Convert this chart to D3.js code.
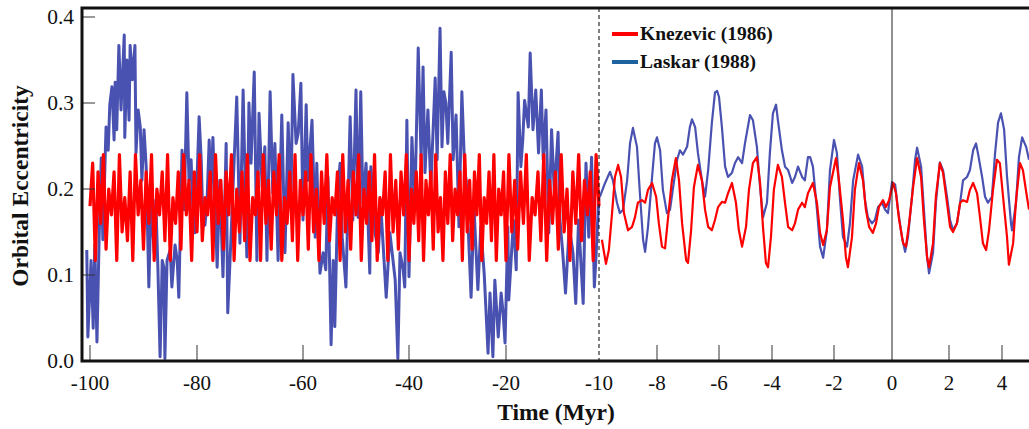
<!DOCTYPE html>
<html>
<head>
<meta charset="utf-8">
<title>Orbital Eccentricity</title>
<style>
    body { margin: 0; background: #fff; }
    text { font-family: "Liberation Serif", "Times New Roman", serif; fill: #111; }
</style>
</head>
<body>
<div id="chart"></div>
<script src="https://d3js.org/d3.v7.min.js"></script>
<script>
// ticks
var tickX = [-100, -80, -60, -40, -20, -10, -8, -6, -4, -2, 0, 2, 4];
var tickY = [0.0, 0.1, 0.2, 0.3, 0.4];

// Knezevic (1986), -100 .. -10 Myr
var knezTimeOld = d3.range(-100, -20, 0.5).concat(d3.range(-20, -9.99, 0.3125));
var knezOld = [
    0.18, 0.23, 0.117, 0.22, 0.16, 0.24, 0.13, 0.20,
    0.17, 0.22, 0.117, 0.24, 0.15, 0.19, 0.14, 0.22,
    0.117, 0.24, 0.17, 0.21, 0.13, 0.22, 0.16, 0.24,
    0.117, 0.20, 0.17, 0.22, 0.14, 0.24, 0.117, 0.19,
    0.16, 0.22, 0.13, 0.24, 0.17, 0.21, 0.117, 0.22,
    0.15, 0.24, 0.14, 0.19, 0.17, 0.22, 0.117, 0.24,
    0.16, 0.21, 0.13, 0.22, 0.17, 0.24, 0.117, 0.20,
    0.15, 0.22, 0.14, 0.24, 0.117, 0.19, 0.17, 0.22,
    0.117, 0.24, 0.16, 0.21, 0.13, 0.22, 0.17, 0.24,
    0.117, 0.19, 0.16, 0.22, 0.14, 0.24, 0.117, 0.21,
    0.17, 0.22, 0.13, 0.24, 0.15, 0.20, 0.117, 0.22,
    0.16, 0.24, 0.14, 0.19, 0.17, 0.22, 0.117, 0.24,
    0.15, 0.21, 0.13, 0.22, 0.17, 0.24, 0.117, 0.20,
    0.16, 0.22, 0.14, 0.24, 0.117, 0.19, 0.17, 0.22,
    0.117, 0.24, 0.15, 0.21, 0.13, 0.22, 0.17, 0.24,
    0.117, 0.20, 0.16, 0.22, 0.14, 0.24, 0.117, 0.21,
    0.17, 0.22, 0.13, 0.24, 0.15, 0.19, 0.117, 0.22,
    0.16, 0.24, 0.14, 0.20, 0.17, 0.22, 0.117, 0.24,
    0.15, 0.21, 0.13, 0.22, 0.17, 0.24, 0.117, 0.19,
    0.16, 0.22, 0.14, 0.24, 0.117, 0.20, 0.17, 0.22,
    0.117, 0.24, 0.15, 0.21, 0.13, 0.22, 0.16, 0.24,
    0.117, 0.19, 0.17, 0.22, 0.14, 0.24, 0.117, 0.21,
    0.16, 0.22, 0.13, 0.24, 0.15, 0.20, 0.117, 0.22,
    0.16, 0.24, 0.14, 0.21, 0.17, 0.22, 0.117, 0.24,
    0.18
];

// Knezevic (1986), -10 .. 5 Myr
var knezTimeNew = [-9.90, -9.76, -9.66, -9.55, -9.45, -9.34, -9.24, -9.14, -9.00, -8.86, -8.76, -8.66, -8.52, -8.41, -8.31, -8.17, -8.03, -7.94, -7.84, -7.74,
    -7.65, -7.52, -7.39, -7.29, -7.19, -7.06, -7.00, -6.90, -6.81, -6.68, -6.55, -6.45, -6.35, -6.23, -6.13, -6.03, -5.89, -5.77, -5.66, -5.51,
    -5.36, -5.25, -5.13, -4.98, -4.87, -4.72, -4.57, -4.45, -4.34, -4.23, -4.15, -4.04, -3.94, -3.81, -3.68, -3.58, -3.48, -3.35, -3.26, -3.16,
    -3.03, -2.94, -2.84, -2.68, -2.55, -2.45, -2.35, -2.23, -2.13, -1.93, -1.83, -1.69, -1.59, -1.52, -1.38, -1.28, -1.14, -1.00, -0.90, -0.79,
    -0.66, -0.55, -0.45, -0.31, -0.21, -0.10, 0.04, 0.14, 0.25, 0.39, 0.49, 0.60, 0.74, 0.88, 1.02, 1.12, 1.23, 1.30, 1.44, 1.54,
    1.68, 1.79, 1.93, 2.04, 2.15, 2.30, 2.42, 2.53, 2.68, 2.79, 2.91, 3.06, 3.17, 3.28, 3.40, 3.51, 3.66, 3.81, 3.92, 4.04,
    4.19, 4.26, 4.42, 4.53, 4.68, 4.79, 4.94, 5.02];
var knezNew = [0.141, 0.113, 0.129, 0.172, 0.214, 0.228, 0.214, 0.172, 0.152, 0.156, 0.167, 0.184, 0.187, 0.184, 0.199, 0.207, 0.191, 0.160, 0.133, 0.131,
    0.164, 0.210, 0.236, 0.210, 0.160, 0.117, 0.114, 0.152, 0.202, 0.228, 0.210, 0.176, 0.156, 0.152, 0.164, 0.179, 0.185, 0.184, 0.195, 0.207,
    0.184, 0.152, 0.133, 0.156, 0.199, 0.230, 0.237, 0.207, 0.156, 0.114, 0.109, 0.144, 0.199, 0.228, 0.214, 0.184, 0.156, 0.152, 0.160, 0.176,
    0.184, 0.179, 0.195, 0.207, 0.184, 0.149, 0.135, 0.152, 0.202, 0.236, 0.210, 0.164, 0.121, 0.109, 0.144, 0.199, 0.230, 0.210, 0.176, 0.156,
    0.149, 0.160, 0.179, 0.187, 0.179, 0.187, 0.207, 0.195, 0.164, 0.137, 0.133, 0.160, 0.202, 0.236, 0.214, 0.164, 0.121, 0.109, 0.137, 0.191,
    0.230, 0.219, 0.184, 0.156, 0.150, 0.160, 0.184, 0.187, 0.185, 0.199, 0.207, 0.195, 0.167, 0.137, 0.129, 0.152, 0.199, 0.234, 0.230, 0.191,
    0.144, 0.112, 0.137, 0.187, 0.230, 0.222, 0.191, 0.176];

// Laskar (1988), -100 .. -10 Myr
var laskarTimeOld = [-100.6, -100.4, -99.8, -99.4, -99.1, -98.7, -98.3, -97.9, -97.6, -97.0, -96.6, -96.3, -95.9, -95.5, -95.3, -95.0, -94.6, -94.2, -93.6, -93.5,
    -93.1, -92.7, -92.5, -92.1, -91.6, -91.4, -91.0, -90.6, -90.3, -89.9, -89.5, -89.0, -88.6, -88.0, -87.7, -87.3, -86.9, -86.5, -86.2, -86.0,
    -85.6, -85.0, -84.7, -84.1, -83.7, -83.4, -82.8, -82.4, -81.9, -81.5, -81.1, -80.7, -80.4, -80.0, -79.6, -79.2, -78.9, -78.5, -78.1, -77.7,
    -77.4, -77.0, -76.6, -76.2, -75.7, -75.1, -74.5, -74.2, -73.6, -73.2, -72.5, -71.9, -71.3, -70.6, -70.2, -69.8, -69.2, -68.7, -68.3, -67.7,
    -67.2, -66.8, -66.2, -65.7, -65.3, -64.7, -64.0, -63.4, -62.8, -62.3, -61.9, -61.3, -60.9, -60.4, -60.0, -59.4, -59.1, -58.3, -57.7, -57.4,
    -56.8, -56.2, -55.7, -55.3, -54.7, -54.3, -54.0, -53.4, -53.0, -52.6, -51.9, -51.1, -50.6, -50.0, -49.6, -49.1, -48.7, -48.1, -47.4, -47.2,
    -46.4, -45.8, -45.3, -44.3, -43.6, -42.6, -42.1, -41.7, -41.1, -40.8, -40.4, -40.0, -39.4, -38.8, -38.1, -37.5, -37.1, -36.7, -36.1, -35.5,
    -34.6, -34.2, -33.6, -33.2, -32.8, -32.4, -32.0, -31.3, -30.9, -30.3, -29.7, -29.1, -28.5, -28.2, -27.8, -27.2, -26.6, -25.8, -25.2, -24.5,
    -23.7, -23.3, -22.7, -22.3, -21.6, -21.0, -20.6, -20.2, -19.8, -19.7, -19.2, -18.9, -18.7, -18.4, -18.2, -18.0, -17.6, -17.4, -17.1, -16.8,
    -16.5, -16.2, -16.0, -15.7, -15.4, -15.1, -14.8, -14.4, -14.2, -13.9, -13.6, -13.2, -12.8, -12.5, -12.2, -11.7, -11.4, -11.1, -10.8, -10.5,
    -10.3, -10.0];
var laskarOld = [0.129, 0.028, 0.117, 0.038, 0.135, 0.022, 0.141, 0.236, 0.141, 0.272, 0.245, 0.298, 0.319, 0.257, 0.324, 0.269, 0.367, 0.292, 0.379, 0.260,
    0.350, 0.280, 0.367, 0.327, 0.367, 0.242, 0.292, 0.272, 0.210, 0.269, 0.226, 0.086, 0.187, 0.126, 0.187, 0.106, 0.005, 0.117, 0.109, 0.003,
    0.117, 0.129, 0.086, 0.135, 0.117, 0.074, 0.245, 0.176, 0.312, 0.210, 0.234, 0.164, 0.149, 0.210, 0.284, 0.234, 0.164, 0.158, 0.187, 0.257,
    0.187, 0.260, 0.187, 0.109, 0.210, 0.098, 0.253, 0.056, 0.141, 0.202, 0.307, 0.137, 0.315, 0.121, 0.300, 0.230, 0.336, 0.117, 0.288, 0.202,
    0.249, 0.117, 0.313, 0.195, 0.253, 0.117, 0.286, 0.126, 0.277, 0.179, 0.333, 0.253, 0.265, 0.323, 0.164, 0.298, 0.210, 0.280, 0.144, 0.230,
    0.102, 0.126, 0.106, 0.214, 0.019, 0.117, 0.040, 0.202, 0.230, 0.144, 0.086, 0.284, 0.164, 0.315, 0.167, 0.313, 0.184, 0.230, 0.102, 0.226,
    0.149, 0.126, 0.179, 0.074, 0.149, 0.094, 0.003, 0.126, 0.106, 0.086, 0.280, 0.098, 0.260, 0.179, 0.364, 0.234, 0.342, 0.219, 0.292, 0.202,
    0.329, 0.234, 0.387, 0.249, 0.313, 0.300, 0.253, 0.359, 0.234, 0.286, 0.156, 0.313, 0.219, 0.210, 0.156, 0.074, 0.179, 0.083, 0.156, 0.102,
    0.009, 0.079, 0.005, 0.094, 0.028, 0.079, 0.056, 0.021, 0.156, 0.071, 0.164, 0.106, 0.312, 0.226, 0.257, 0.303, 0.272, 0.358, 0.269, 0.315,
    0.242, 0.315, 0.234, 0.292, 0.149, 0.269, 0.195, 0.266, 0.164, 0.126, 0.079, 0.156, 0.126, 0.067, 0.164, 0.067, 0.230, 0.144, 0.237, 0.086,
    0.126, 0.195];

// Laskar (1988), -10 .. 5 Myr
var laskarTimeNew = [-9.97, -9.79, -9.62, -9.52, -9.38, -9.28, -9.17, -9.03, -8.93, -8.83, -8.69, -8.59, -8.48, -8.41, -8.31, -8.17, -8.07, -8.00, -7.90, -7.81,
    -7.68, -7.58, -7.48, -7.35, -7.26, -7.16, -7.03, -6.94, -6.87, -6.77, -6.68, -6.55, -6.45, -6.35, -6.23, -6.13, -6.06, -6.00, -5.89, -5.77,
    -5.66, -5.51, -5.40, -5.28, -5.13, -5.02, -4.83, -4.72, -4.57, -4.45, -4.34, -4.19, -4.08, -3.97, -3.87, -3.81, -3.68, -3.58, -3.48, -3.35,
    -3.26, -3.16, -3.03, -2.94, -2.84, -2.77, -2.68, -2.55, -2.45, -2.35, -2.23, -2.13, -2.00, -1.90, -1.79, -1.69, -1.55, -1.45, -1.34, -1.17,
    -1.03, -0.93, -0.83, -0.69, -0.59, -0.48, -0.34, -0.24, -0.14, 0.00, 0.11, 0.21, 0.35, 0.46, 0.56, 0.70, 0.81, 0.88, 1.02, 1.12,
    1.23, 1.30, 1.44, 1.54, 1.68, 1.79, 1.93, 2.04, 2.15, 2.30, 2.42, 2.53, 2.68, 2.79, 2.91, 3.02, 3.09, 3.25, 3.36, 3.47,
    3.62, 3.74, 3.85, 3.96, 4.08, 4.19, 4.34, 4.38, 4.53, 4.64, 4.76, 4.91, 5.02];
var laskarNew = [0.191, 0.207, 0.220, 0.210, 0.184, 0.172, 0.176, 0.210, 0.253, 0.271, 0.249, 0.195, 0.141, 0.127, 0.156, 0.214, 0.253, 0.260, 0.245, 0.199,
    0.172, 0.176, 0.202, 0.234, 0.245, 0.240, 0.249, 0.272, 0.281, 0.272, 0.242, 0.210, 0.191, 0.222, 0.277, 0.312, 0.314, 0.307, 0.272, 0.226,
    0.214, 0.219, 0.230, 0.237, 0.230, 0.253, 0.286, 0.280, 0.249, 0.202, 0.167, 0.184, 0.242, 0.288, 0.298, 0.280, 0.245, 0.226, 0.222, 0.207,
    0.214, 0.226, 0.214, 0.210, 0.237, 0.237, 0.226, 0.176, 0.133, 0.120, 0.152, 0.222, 0.257, 0.242, 0.187, 0.144, 0.133, 0.160, 0.210, 0.240,
    0.226, 0.187, 0.167, 0.160, 0.164, 0.179, 0.184, 0.176, 0.172, 0.208, 0.205, 0.176, 0.144, 0.127, 0.144, 0.191, 0.234, 0.248, 0.226, 0.176,
    0.121, 0.102, 0.126, 0.184, 0.231, 0.222, 0.191, 0.164, 0.152, 0.160, 0.184, 0.210, 0.214, 0.222, 0.245, 0.253, 0.242, 0.214, 0.191, 0.184,
    0.191, 0.242, 0.277, 0.288, 0.269, 0.214, 0.160, 0.152, 0.184, 0.237, 0.260, 0.249, 0.234];

var width = 1029;
var height = 429;
var plotLeft = 82, plotTop = 8, plotBottom = 361;

var svg = d3.select("#chart")
    .append("svg")
    .attr("width", width)
    .attr("height", height);

// broken time axis: one pixel position per tick
var x = d3.scaleLinear()
    .domain(tickX)
    .range([90, 197, 303, 409, 506, 599, 657, 719, 772, 834, 892, 949, 1002]);
var y = d3.scaleLinear().domain([0, 0.4]).range([plotBottom, 17]);

svg.append("defs").append("clipPath").attr("id", "clip")
    .append("rect")
    .attr("x", plotLeft).attr("y", plotTop)
    .attr("width", width - plotLeft).attr("height", plotBottom - plotTop);

function pairs(ts, vs) {
    return ts.map(function (t, i) { return [t, vs[i]]; });
}
var line = d3.line()
    .x(function (d) { return x(d[0]); })
    .y(function (d) { return y(d[1]); });

var plot = svg.append("g").attr("clip-path", "url(#clip)");

plot.append("path")
    .datum(pairs(laskarTimeOld, laskarOld))
    .attr("d", line)
    .attr("fill", "none").attr("stroke", "#4a52b1").attr("stroke-width", 3)
    .attr("stroke-linejoin", "round");
plot.append("path")
    .datum(pairs(laskarTimeNew, laskarNew))
    .attr("d", line)
    .attr("fill", "none").attr("stroke", "#4a52b1").attr("stroke-width", 2.2)
    .attr("stroke-linejoin", "round");
plot.append("path")
    .datum(pairs(knezTimeOld, knezOld))
    .attr("d", line)
    .attr("fill", "none").attr("stroke", "#ff0000").attr("stroke-width", 3.2)
    .attr("stroke-linejoin", "round");
plot.append("path")
    .datum(pairs(knezTimeNew, knezNew))
    .attr("d", line)
    .attr("fill", "none").attr("stroke", "#ff0000").attr("stroke-width", 2.2)
    .attr("stroke-linejoin", "round");

// divider lines at -10 (dashed) and 0
svg.append("line")
    .attr("x1", x(-10)).attr("x2", x(-10))
    .attr("y1", plotTop).attr("y2", plotBottom)
    .attr("stroke", "#000").attr("stroke-width", 1).attr("stroke-dasharray", "4,3");
svg.append("line")
    .attr("x1", x(0)).attr("x2", x(0))
    .attr("y1", plotTop).attr("y2", plotBottom)
    .attr("stroke", "#222").attr("stroke-width", 1);

// ticks
svg.selectAll(".xtick")
    .data(tickX.filter(function (d) { return d !== -10 && d !== 0; }))
    .enter().append("line")
    .attr("class", "xtick")
    .attr("x1", function (d) { return x(d); }).attr("x2", function (d) { return x(d); })
    .attr("y1", plotBottom).attr("y2", plotBottom - 16)
    .attr("stroke", "#333").attr("stroke-width", 1);
svg.selectAll(".ytick")
    .data(tickY)
    .enter().append("line")
    .attr("class", "ytick")
    .attr("x1", plotLeft).attr("x2", plotLeft + 13)
    .attr("y1", function (d) { return y(d); }).attr("y2", function (d) { return y(d); })
    .attr("stroke", "#333").attr("stroke-width", 1);

// frame
svg.append("path")
    .attr("d", "M" + (width + 5) + "," + plotTop + "H" + plotLeft + "V" + plotBottom + "H" + (width + 5))
    .attr("fill", "none").attr("stroke", "#111").attr("stroke-width", 3);

// tick labels
svg.selectAll(".xlab")
    .data(tickX)
    .enter().append("text")
    .attr("class", "xlab")
    .attr("x", function (d) { return x(d); })
    .attr("y", 390)
    .attr("text-anchor", "middle")
    .style("font-size", "21px")
    .text(function (d) { return d; });
svg.selectAll(".ylab")
    .data(tickY)
    .enter().append("text")
    .attr("class", "ylab")
    .attr("x", 74)
    .attr("y", function (d) { return y(d) + 7; })
    .attr("text-anchor", "end")
    .style("font-size", "21.5px")
    .text(function (d) { return d3.format(".1f")(d); });

// axis titles
svg.append("text")
    .attr("x", 556).attr("y", 420)
    .attr("text-anchor", "middle")
    .style("font-size", "23.5px").style("font-weight", "bold")
    .text("Time (Myr)");
svg.append("text")
    .attr("transform", "translate(28,186) rotate(-90)")
    .attr("text-anchor", "middle")
    .style("font-size", "23.5px").style("font-weight", "bold")
    .text("Orbital Eccentricity");

// legend
var legend = [
    { name: "Knezevic (1986)", color: "#ff0000" },
    { name: "Laskar (1988)", color: "#1f62a0" }
];
var lg = svg.selectAll(".legend")
    .data(legend)
    .enter().append("g")
    .attr("class", "legend")
    .attr("transform", function (d, i) { return "translate(612," + (34 + i * 28) + ")"; });
lg.append("line")
    .attr("x1", 0).attr("x2", 26)
    .attr("stroke", function (d) { return d.color; })
    .attr("stroke-width", 4);
lg.append("text")
    .attr("x", 28).attr("y", 6)
    .style("font-size", "19.5px").style("font-weight", "bold")
    .text(function (d) { return d.name; });
</script>
</body>
</html>
